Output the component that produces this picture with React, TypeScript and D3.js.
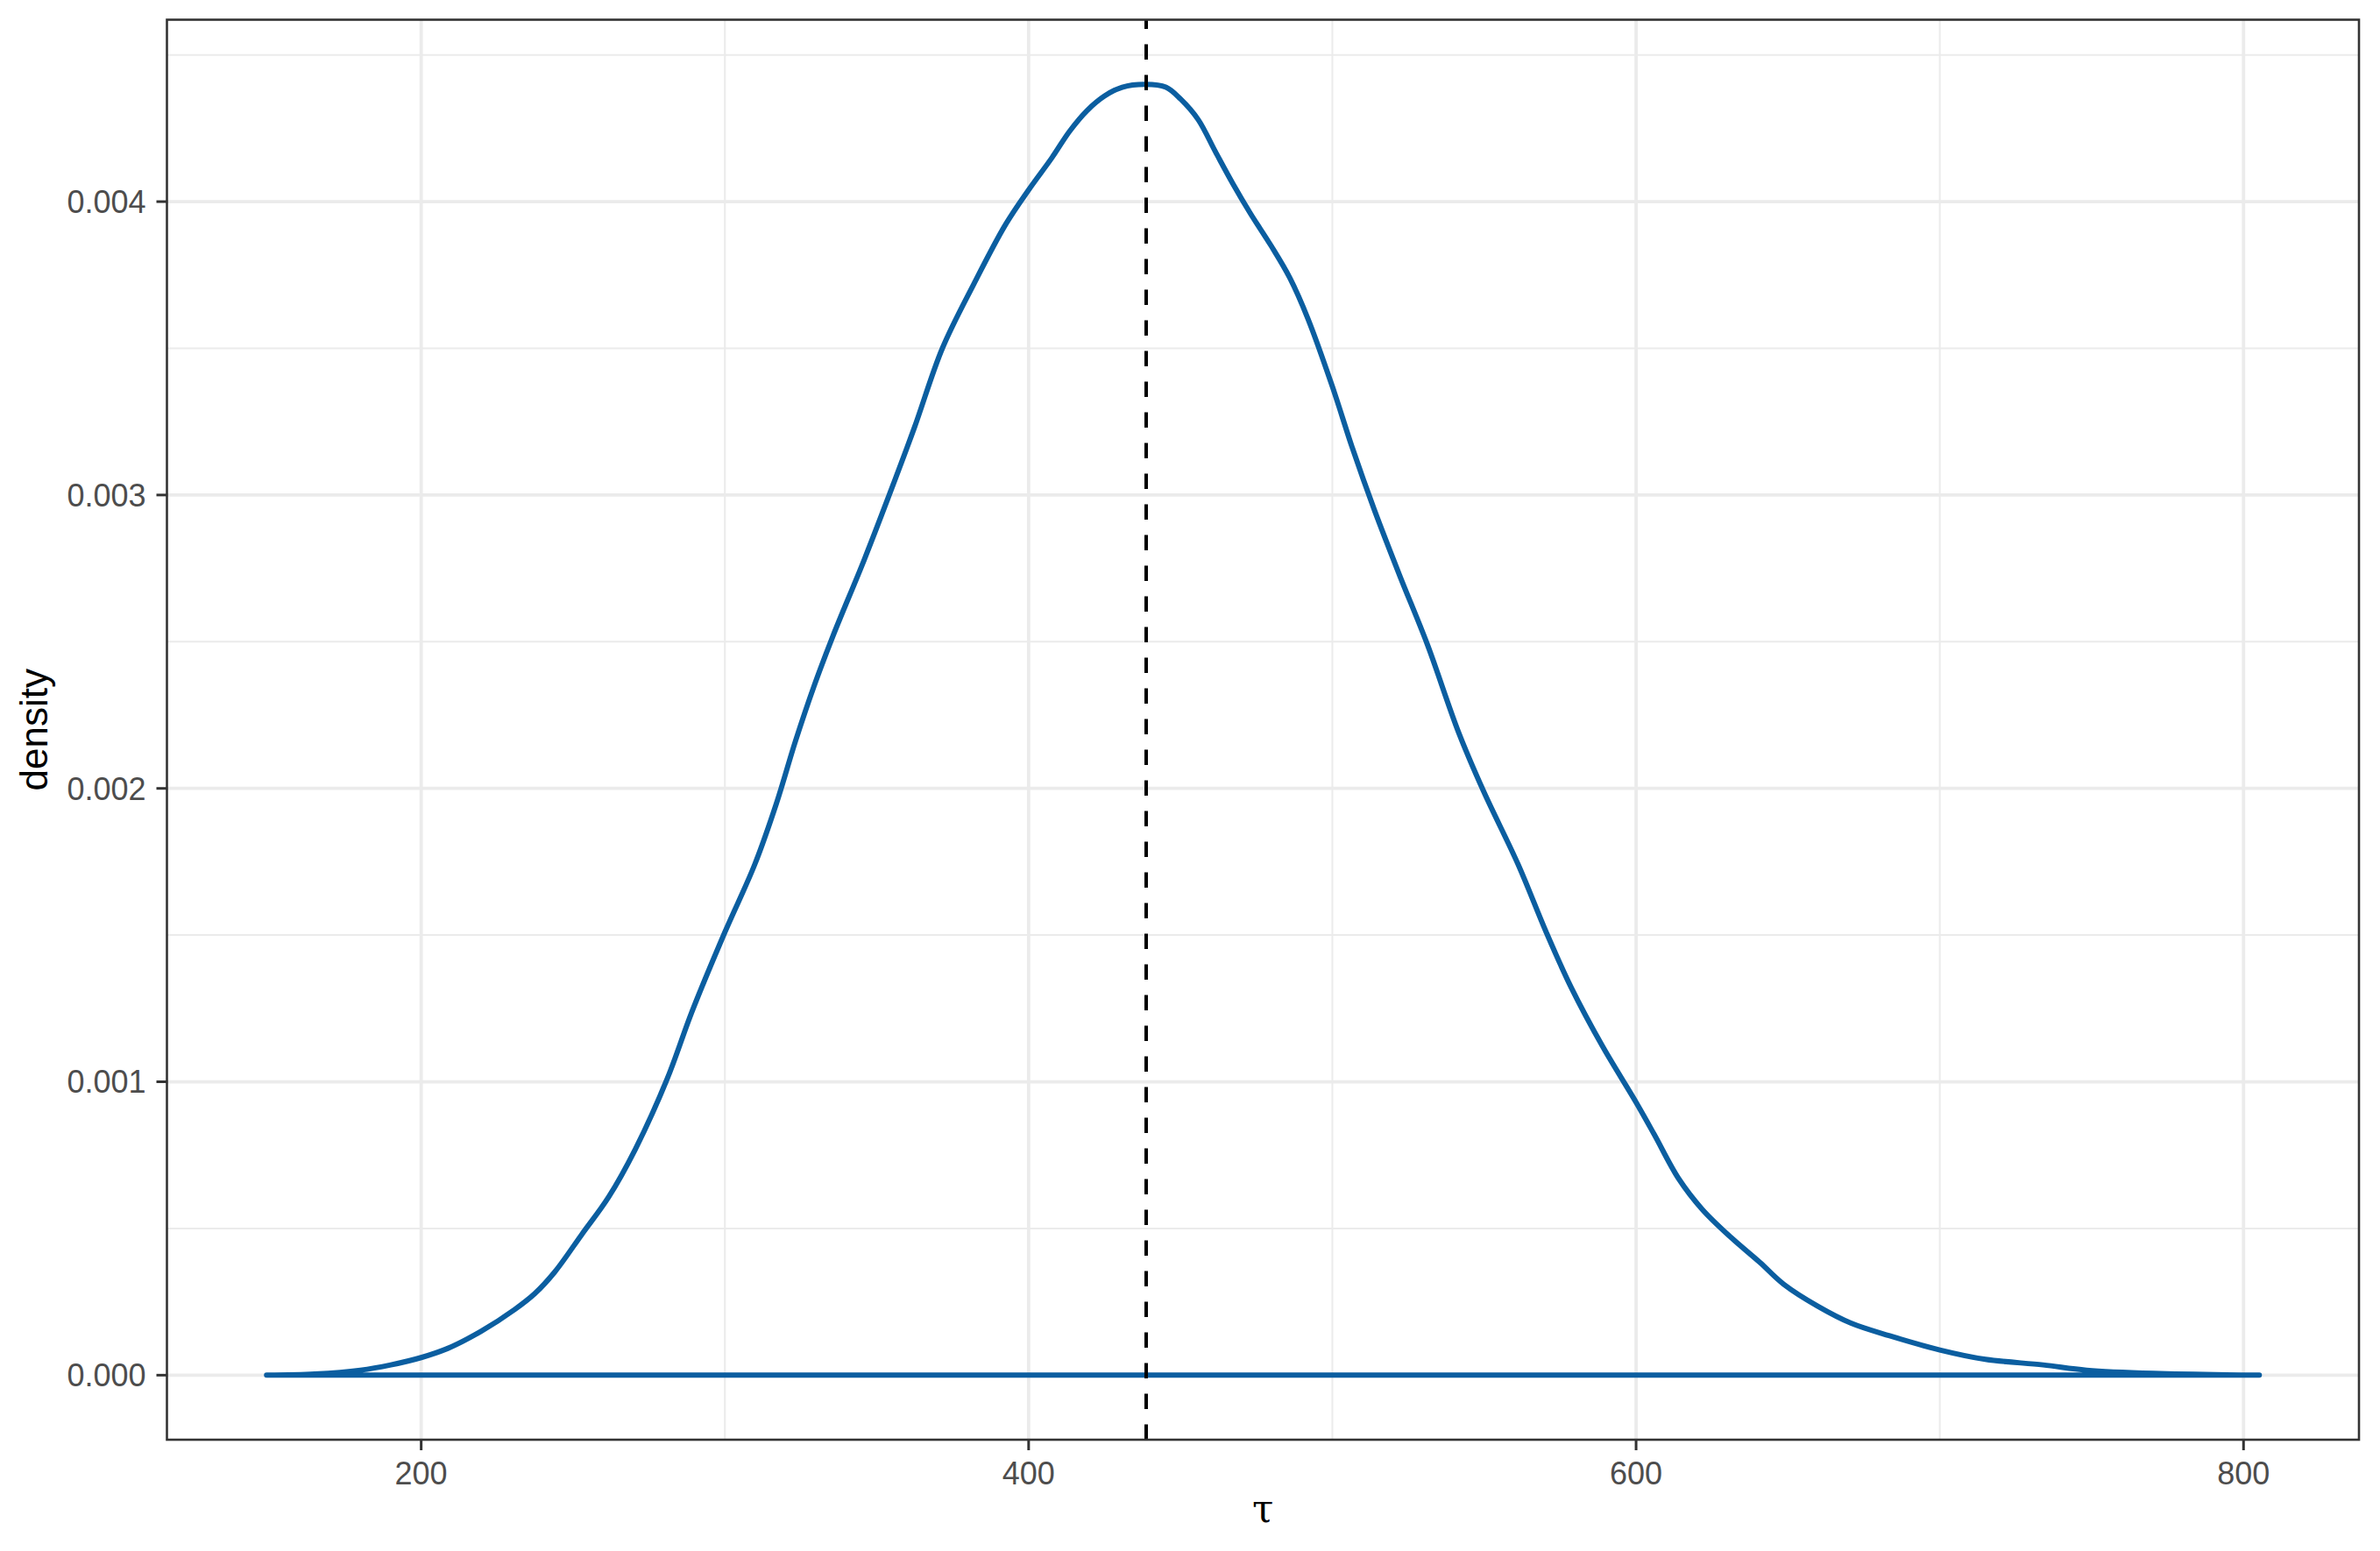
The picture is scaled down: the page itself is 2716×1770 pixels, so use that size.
import React from "react";
import * as d3 from "d3";

const tauValues: number[] = [
  149.1, 165, 180, 190, 200, 208.7, 219.8, 230.8, 237.4, 244, 252.9, 261.7, 270.5, 281, 289.2,
  300, 309.8, 317, 323.2, 329.4, 335.6, 345.9, 354.1, 362.4, 371.6, 382, 392.3, 400, 407.7, 413.5,
  419.2, 425, 430.8, 438.5, 445.2, 450, 455.8, 461.5, 467.3, 473, 479.8, 486, 492, 500, 506.6, 513.8,
  522, 531.3, 541.6, 549.8, 561.2, 570.4, 578.7, 589, 600, 606, 614, 621.8, 631.3, 640.8, 648.7,
  659.8, 670.8, 683.5, 700, 715, 734, 748.3, 770.4, 805.2,
];
const densityValues: number[] = [
  0, 0.000004, 0.000017, 0.000035, 0.00006, 0.000091, 0.00015, 0.000224, 0.000278, 0.000352, 0.00048,
  0.000607, 0.00077, 0.00101, 0.00124, 0.00151, 0.00174, 0.00195, 0.00216, 0.00235, 0.00252,
  0.00278, 0.003, 0.00323, 0.0035, 0.00372, 0.00392, 0.00404, 0.00415, 0.00424, 0.00431, 0.00436,
  0.00439, 0.0044, 0.00439, 0.00435, 0.00428, 0.00417, 0.00406, 0.00396, 0.00385, 0.00374, 0.0036,
  0.00337, 0.00316, 0.00295, 0.00273, 0.00249, 0.00219, 0.00199, 0.00174, 0.00151, 0.00132, 0.00112,
  0.00093, 0.00082, 0.00067, 0.000565, 0.000469, 0.000384, 0.000309, 0.000235, 0.000177, 0.000134,
  0.000086, 0.000054, 0.000035, 0.000017, 0.000006, 0,
];
const vlineValue = 438.7;
const xMajorTicks: number[] = [200, 400, 600, 800];
const xMinorTicks: number[] = [300, 500, 700];
const yMajorTicks: number[] = [0, 0.001, 0.002, 0.003, 0.004];
const yMinorTicks: number[] = [0.0005, 0.0015, 0.0025, 0.0035, 0.0045];
const xTitle = "τ";
const yTitle = "density";

const W = 2716;
const H = 1770;
const panel = { left: 190.5, right: 2692, top: 22.5, bottom: 1643 };

export default function App() {
  const xMin = d3.min(tauValues)!;
  const xMax = d3.max(tauValues)!;
  const yMax = d3.max(densityValues)!;
  const xPad = (xMax - xMin) * 0.05;
  const yPad = yMax * 0.05;
  const x = d3.scaleLinear().domain([xMin - xPad, xMax + xPad]).range([panel.left, panel.right]);
  const y = d3.scaleLinear().domain([-yPad, yMax + yPad]).range([panel.bottom, panel.top]);

  const pts: [number, number][] = tauValues.map((t, i) => [t, densityValues[i]]);
  const line = d3
    .line<[number, number]>()
    .x((d) => x(d[0]))
    .y((d) => y(d[1]))
    .curve(d3.curveCatmullRom.alpha(0.5));
  const pathD = (line(pts) || "") + "Z";

  const font = "'Liberation Sans', Arial, Helvetica, sans-serif";
  const blue = "#0B5EA0";
  const px = panel.right - panel.left;
  const ph = panel.bottom - panel.top;

  return (
    <svg
      width={W}
      height={H}
      viewBox={`0 0 ${W} ${H}`}
      style={{ position: "absolute", left: 0, top: 0, background: "#fff" }}
    >
      <rect x={0} y={0} width={W} height={H} fill="#fff" />
      <defs>
        <clipPath id="panelClip">
          <rect x={panel.left} y={panel.top} width={px} height={ph} />
        </clipPath>
      </defs>
      <g>
        {yMinorTicks.map((v) => (
          <line key={"ym" + v} x1={panel.left} x2={panel.right} y1={y(v)} y2={y(v)} stroke="#EBEBEB" strokeWidth={2} />
        ))}
        {xMinorTicks.map((v) => (
          <line key={"xm" + v} x1={x(v)} x2={x(v)} y1={panel.top} y2={panel.bottom} stroke="#EBEBEB" strokeWidth={2} />
        ))}
        {yMajorTicks.map((v) => (
          <line key={"yM" + v} x1={panel.left} x2={panel.right} y1={y(v)} y2={y(v)} stroke="#EBEBEB" strokeWidth={3.8} />
        ))}
        {xMajorTicks.map((v) => (
          <line key={"xM" + v} x1={x(v)} x2={x(v)} y1={panel.top} y2={panel.bottom} stroke="#EBEBEB" strokeWidth={3.8} />
        ))}
      </g>
      <g clipPath="url(#panelClip)">
        <path
          d={pathD}
          fill="none"
          stroke={blue}
          strokeWidth={6}
          strokeLinejoin="round"
          strokeLinecap="round"
        />
        <line
          x1={x(vlineValue)}
          x2={x(vlineValue)}
          y1={panel.bottom}
          y2={panel.top}
          stroke="#000"
          strokeWidth={4}
          strokeDasharray="17.5 17.5"
        />
      </g>
      <rect
        x={panel.left}
        y={panel.top}
        width={px}
        height={ph}
        fill="none"
        stroke="#333333"
        strokeWidth={2.6}
      />
      {yMajorTicks.map((v) => (
        <g key={"yt" + v}>
          <line x1={panel.left - 12} x2={panel.left} y1={y(v)} y2={y(v)} stroke="#333333" strokeWidth={3} />
          <text
            x={panel.left - 24}
            y={y(v)}
            dy="0.36em"
            textAnchor="end"
            fontFamily={font}
            fontSize={36}
            fill="#4D4D4D"
          >
            {d3.format(".3f")(v)}
          </text>
        </g>
      ))}
      {xMajorTicks.map((v) => (
        <g key={"xt" + v}>
          <line x1={x(v)} x2={x(v)} y1={panel.bottom} y2={panel.bottom + 12} stroke="#333333" strokeWidth={3} />
          <text
            x={x(v)}
            y={1694}
            textAnchor="middle"
            fontFamily={font}
            fontSize={36}
            fill="#4D4D4D"
          >
            {String(v)}
          </text>
        </g>
      ))}
      <text
        x={(panel.left + panel.right) / 2}
        y={1737}
        textAnchor="middle"
        fontFamily="'DejaVu Serif', 'Liberation Serif', serif"
        fontSize={44}
        fill="#000"
      >
        {xTitle}
      </text>
      <text
        transform={`translate(54, ${(panel.top + panel.bottom) / 2}) rotate(-90)`}
        textAnchor="middle"
        fontFamily={font}
        fontSize={44}
        fill="#000"
      >
        {yTitle}
      </text>
    </svg>
  );
}
